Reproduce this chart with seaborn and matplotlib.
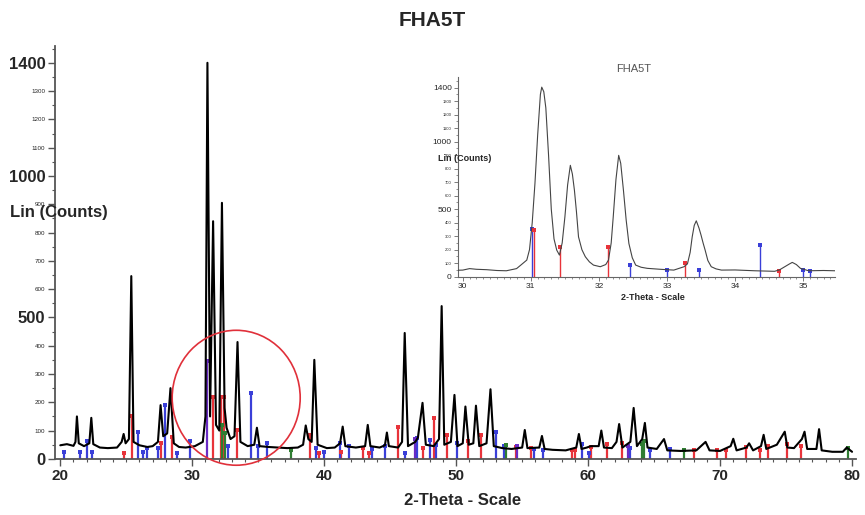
import numpy as np
import pandas as pd
import matplotlib
matplotlib.use("Agg")
import matplotlib.pyplot as plt
from matplotlib.patches import Ellipse
import seaborn as sns

# main XRD trace (2-theta, counts), vertices
trace_x = [20.0, 20.5, 21.0, 21.15, 21.26, 21.4, 21.8, 22.2, 22.35, 22.5, 23.0, 23.6, 24.3, 24.65,
           24.8, 24.95, 25.2, 25.38, 25.55, 26.0, 26.6, 27.0, 27.4, 27.6, 27.8, 28.1, 28.35, 28.6,
           29.0, 29.5, 30.2, 30.8, 31.0, 31.15, 31.35, 31.58, 31.8, 32.05, 32.25, 32.45, 32.6, 32.9,
           33.2, 33.43, 33.65, 34.2, 34.7, 34.9, 35.1, 35.8, 36.5, 37.2, 38.0, 38.4, 38.6, 38.8,
           39.05, 39.25, 39.5, 40.2, 40.8, 41.2, 41.4, 41.6, 42.4, 43.1, 43.3, 43.5, 44.2, 44.6,
           44.75, 44.9, 45.6, 45.9, 46.1, 46.35, 46.9, 47.1, 47.45, 47.7, 48.3, 48.7, 48.9, 49.1,
           49.6, 49.87, 50.1, 50.5, 50.7, 50.95, 51.3, 51.5, 51.75, 52.3, 52.6, 52.85, 53.5, 54.2,
           55.0, 55.2, 55.4, 56.3, 56.5, 56.7, 57.3, 58.3, 59.1, 59.3, 59.5, 59.9, 60.2, 60.8,
           61.0, 61.2, 61.8, 62.15, 62.35, 62.6, 63.2, 63.45, 63.7, 64.1, 64.3, 64.5, 65.2, 65.75,
           66.0, 67.0, 68.2, 68.9, 69.2, 70.0, 70.8, 71.0, 71.25, 72.0, 72.2, 72.5, 73.1, 73.3,
           73.5, 74.3, 74.9, 75.1, 75.6, 76.2, 76.4, 76.6, 77.3, 77.5, 77.7, 78.5, 79.3, 79.6, 80.0]
trace_y = [48, 52, 46, 60, 150, 55, 45, 55, 145, 52, 40, 38, 40, 60,
           88, 55, 70, 646, 60, 48, 42, 45, 60, 190, 80, 90, 250, 55,
           42, 40, 45, 60, 150, 1400, 150, 840, 120, 100, 905, 180, 110, 70,
           80, 413, 60, 45, 50, 110, 45, 42, 40, 38, 40, 50, 118, 70,
           60, 350, 50, 38, 40, 55, 114, 45, 40, 45, 120, 45, 40, 48,
           93, 45, 40, 60, 445, 45, 60, 75, 198, 50, 45, 70, 540, 50,
           60, 226, 45, 55, 185, 50, 55, 188, 45, 55, 246, 45, 38, 35,
           40, 102, 38, 40, 81, 35, 32, 30, 40, 88, 35, 40, 45, 45,
           100, 40, 38, 60, 123, 40, 60, 180, 45, 70, 127, 40, 35, 70,
           30, 28, 30, 60, 30, 28, 45, 71, 30, 40, 55, 30, 45, 85,
           35, 50, 96, 40, 38, 70, 96, 35, 35, 105, 30, 25, 25, 40, 25]

# reference pattern sticks (position, height)
red_x = [24.8, 25.4, 27.6, 28.45, 31.57, 32.2, 32.4, 33.4, 38.9, 39.6, 41.26, 42.95, 43.4, 45.6,
         47.5, 48.3, 49.3, 50.93, 51.9, 54.5, 55.7, 58.8, 59.0, 60.2, 61.4, 62.6, 68.0, 69.8,
         70.45, 72.0, 73.0, 73.6, 75.05, 76.1]
red_h = [22, 150, 57, 78, 219, 219, 219, 102, 85, 22, 25, 40, 22, 113,
         37, 145, 85, 62, 85, 43, 40, 30, 30, 43, 52, 55, 30, 30,
         30, 42, 30, 45, 52, 47]
blue_x = [20.25, 21.5, 22.0, 22.4, 25.9, 26.3, 26.6, 27.4, 27.9, 28.85, 29.8, 32.7, 34.45, 35.0,
          35.65, 39.4, 40.0, 41.16, 41.9, 43.6, 44.6, 46.1, 47.0, 48.0, 48.5, 50.05, 53.0, 53.6,
          55.9, 56.6, 59.5, 60.1, 63.2, 64.7, 66.2]
blue_h = [25, 25, 63, 25, 95, 25, 40, 40, 190, 20, 63, 45, 234, 45,
          55, 40, 25, 57, 45, 35, 45, 20, 75, 68, 50, 55, 95, 45,
          35, 30, 52, 20, 40, 30, 35]
purple_x = [31.1, 46.9, 54.6, 63.0]
purple_h = [347, 70, 45, 45]
green_x = [32.25, 32.45, 37.5, 53.8, 64.1, 64.25, 67.3, 79.7]
green_h = [120, 90, 30, 50, 52, 62, 30, 37]

# inset (30-35.5 deg zoom)
inset_x = [29.93, 30.0, 30.1, 30.2, 30.35, 30.5, 30.64, 30.79, 30.85, 30.94, 30.98, 31.02, 31.06,
           31.1, 31.14, 31.16, 31.19, 31.22, 31.26, 31.3, 31.34, 31.38, 31.42, 31.46, 31.5, 31.54,
           31.58, 31.61, 31.64, 31.67, 31.7, 31.75, 31.8, 31.86, 31.92, 32.02, 32.1, 32.14, 32.18,
           32.21, 32.25, 32.29, 32.32, 32.36, 32.4, 32.44, 32.49, 32.54, 32.62, 32.71, 32.9, 33.1,
           33.25, 33.3, 33.34, 33.37, 33.4, 33.43, 33.47, 33.5, 33.53, 33.56, 33.6, 33.65, 33.72,
           33.8, 34.0, 34.29, 34.58, 34.65, 34.73, 34.8, 34.84, 34.9, 34.96, 35.08, 35.3, 35.47]
inset_y = [48, 49, 60, 55, 52, 46, 44, 60, 85, 123, 200, 400, 690,
           1050, 1350, 1404, 1370, 1250, 900, 500, 280, 197, 160, 250, 443, 680,
           825, 760, 640, 480, 295, 200, 148, 110, 86, 74, 90, 123, 250,
           443, 720, 899, 840, 640, 420, 246, 140, 86, 70, 62, 55, 49,
           74, 95, 180, 295, 380, 414, 360, 308, 250, 197, 120, 74, 58,
           49, 50, 44, 40, 50, 74, 95, 106, 90, 62, 44, 46, 44]
inset_red_x = [31.05, 31.43, 32.14, 33.26, 34.64]
inset_red_h = [345, 222, 222, 103, 42]
inset_blue_x = [31.02, 32.45, 33.0, 33.47, 34.36, 35.0, 35.1]
inset_blue_h = [350, 86, 49, 49, 234, 49, 44]

RED = "#e8333a"
BLUE = "#3a3fd8"
PURPLE = "#6a2bc4"
GREEN = "#2f7d32"

sns.set_style("ticks")
plt.rcParams["font.family"] = ["Liberation Sans", "DejaVu Sans"]

fig = plt.figure(figsize=(8.65, 5.15), dpi=100)
ax = fig.add_axes([0.0636, 0.109, 0.926, 0.802])


def sticks(a, xs, hs, color, lw=1.6, ms=12):
    a.vlines(xs, 0, hs, colors=color, lw=lw, zorder=2)
    sns.scatterplot(x=xs, y=hs, ax=a, color=color, s=ms, marker="s", linewidth=0, zorder=3)


main_df = pd.DataFrame({"theta": trace_x, "counts": trace_y})
sns.lineplot(data=main_df, x="theta", y="counts", ax=ax, color="black", lw=1.5, sort=False,
             estimator=None, zorder=4)
sticks(ax, red_x, red_h, RED)
sticks(ax, blue_x, blue_h, BLUE)
sticks(ax, purple_x, purple_h, PURPLE)
sticks(ax, green_x, green_h, GREEN)

ax.add_patch(Ellipse((33.33, 216), 9.7, 477, fill=False, edgecolor="#e0303a", lw=1.2,
                     clip_on=False, zorder=5))

ax.set_xlim(19.6, 80.3)
ax.set_ylim(0, 1460)
sns.despine(ax=ax)
ax.set_xticks(range(20, 81, 10))
ax.set_xticks(range(20, 81, 1), minor=True)
ax.set_xticklabels([str(v) for v in range(20, 81, 10)], fontsize=11, fontweight="bold")
yt = list(range(0, 1401, 100))
ax.set_yticks(yt)
ax.set_yticks(range(50, 1451, 100), minor=True)
ax.set_yticklabels([str(v) for v in yt])
for lab, v in zip(ax.get_yticklabels(), yt):
    if v in (0, 500, 1000, 1400):
        lab.set_fontsize(12)
        lab.set_fontweight("bold")
    else:
        lab.set_fontsize(4.5)
ax.tick_params(axis="both", which="major", length=5, width=1, color="#555555", pad=2)
ax.tick_params(axis="both", which="minor", length=2.5, width=0.8, color="#555555")
for s in ("left", "bottom"):
    ax.spines[s].set_color("#555555")
    ax.spines[s].set_linewidth(1.3)
ax.set_xlabel("")
ax.set_ylabel("")

fig.text(0.5, 0.96, "FHA5T", ha="center", va="center", fontsize=15, fontweight="bold")
fig.text(0.535, 0.028, "2-Theta - Scale", ha="center", va="center", fontsize=12, fontweight="bold")
fig.text(0.012, 0.588, "Lin (Counts)", ha="left", va="center", fontsize=12, fontweight="bold")

# inset
ins = fig.add_axes([0.5295, 0.4627, 0.436, 0.388])
ins_df = pd.DataFrame({"theta": inset_x, "counts": inset_y})
sns.lineplot(data=ins_df, x="theta", y="counts", ax=ins, color="#444444", lw=0.8, sort=False,
             estimator=None, zorder=4)
sticks(ins, inset_blue_x, inset_blue_h, BLUE, lw=1.0, ms=5)
sticks(ins, inset_red_x, inset_red_h, RED, lw=1.0, ms=5)
ins.set_xlim(29.93, 35.47)
ins.set_ylim(0, 1480)
sns.despine(ax=ins)
ins.set_xticks(range(30, 36))
ins.set_xticks(np.arange(30, 35.5, 0.1), minor=True)
ins.set_xticklabels([str(v) for v in range(30, 36)], fontsize=6)
ins.set_yticks(yt)
ins.set_yticks(range(50, 1451, 100), minor=True)
ins.set_yticklabels([str(v) for v in yt])
for lab, v in zip(ins.get_yticklabels(), yt):
    if v in (0, 500, 1000, 1400):
        lab.set_fontsize(6)
    else:
        lab.set_fontsize(3)
ins.tick_params(axis="both", which="major", length=3, width=0.6, color="#666666", pad=1.5)
ins.tick_params(axis="both", which="minor", length=1.5, width=0.5, color="#666666")
for s in ("left", "bottom"):
    ins.spines[s].set_color("#666666")
    ins.spines[s].set_linewidth(0.8)
ins.set_xlabel("")
ins.set_ylabel("")
ins.patch.set_alpha(0)
fig.text(0.732, 0.866, "FHA5T", ha="center", va="center", fontsize=8, color="#555555")
fig.text(0.755, 0.423, "2-Theta - Scale", ha="center", va="center", fontsize=6.5, fontweight="bold")
fig.text(0.506, 0.693, "Lin (Counts)", ha="left", va="center", fontsize=6.5, fontweight="bold")

fig.savefig("out.png", dpi=100)
